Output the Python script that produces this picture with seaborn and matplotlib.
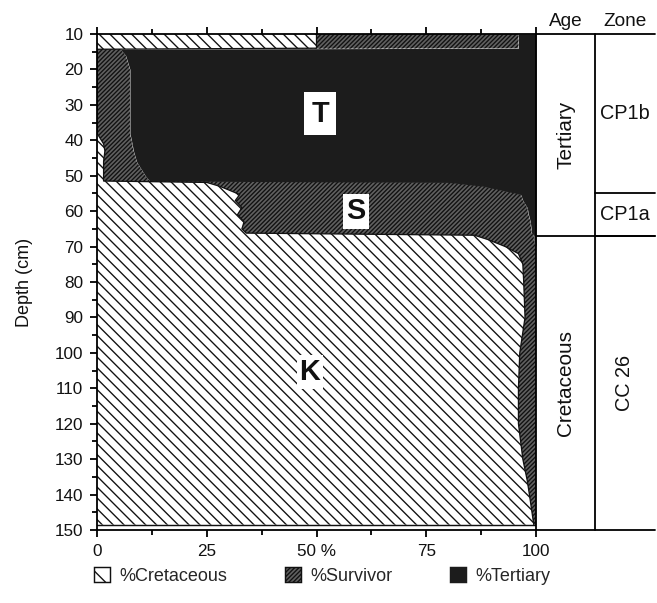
import numpy as np
import pandas as pd
import seaborn as sns
import matplotlib
matplotlib.use("Agg")
import matplotlib.pyplot as plt
from matplotlib.patches import Patch

# ---------------- data ----------------
depth = [10, 14, 14.3, 16, 20, 30, 38, 41, 43, 46, 48, 50, 51.5, 51.9, 53, 55.3, 57, 59, 61,
         63, 65, 66.2, 66.8, 68, 69, 70, 72, 75, 80, 90, 100, 110, 120, 130, 136, 140, 146, 148.5]
pct_cretaceous = [50, 50, 0, 0, 0, 0, 0, 1.5, 1.8, 1.5, 1.5, 1.5, 1.5, 25, 28, 32.5, 31.5, 33,
                  32, 33.5, 33, 34, 86, 89, 91, 93, 96, 97, 97.2, 97.5, 96.3, 96, 96, 97, 98, 98.5, 99.2, 99.5]
pct_survivor = [46, 46, 5.3, 6.5, 7.5, 7.5, 7.5, 6.5, 6.5, 7.5, 8.5, 9.5, 10.5, 55, 60, 64, 65.5, 65,
                66.3, 65.2, 65.9, 65, 13.5, 10.5, 8.8, 7, 4, 3, 2.8, 2.5, 3.7, 4, 4, 3, 2, 1.5, 0.8, 0.5]
pct_tertiary = [100 - c - s for c, s in zip(pct_cretaceous, pct_survivor)]

x_ticks = [0, 25, 50, 75, 100]
x_ticklabels = ["0", "25", "50 %", "75", "100"]
y_ticks = list(range(10, 151, 10))

series_names = ["%Cretaceous", "%Survivor", "%Tertiary"]
age_bounds = [(10, 67, "Tertiary"), (67, 150, "Cretaceous")]
zone_bounds = [(10, 55, "CP1b"), (55, 67, "CP1a"), (67, 150, "CC 26")]

df = pd.DataFrame({"depth": depth, "cret": pct_cretaceous, "surv": pct_survivor, "tert": pct_tertiary})
df["cum1"] = df["cret"]
df["cum2"] = df["cret"] + df["surv"]

# ---------------- style ----------------
sns.set_theme(style="ticks")
plt.rcParams["font.family"] = ["Liberation Sans", "DejaVu Sans"]
plt.rcParams["hatch.linewidth"] = 0.75
plt.rcParams["axes.linewidth"] = 1.0

DPI = 130
fig = plt.figure(figsize=(657 / DPI, 603 / DPI), dpi=DPI)
W, H = 657, 603
left, right, top, bottom = 97, 536, 34, 530
ax = fig.add_axes([left / W, 1 - bottom / H, (right - left) / W, (bottom - top) / H])

CRET_FACE = "white"
SURV_FACE = "#606060"
TERT_FACE = "#1c1c1c"
CRET_HATCH = "\\" * 4
SURV_HATCH = "/" * 10

ax.fill_betweenx(df["depth"], 0, df["cum1"], facecolor=CRET_FACE, edgecolor="#111111",
                 hatch=CRET_HATCH, linewidth=0)
ax.fill_betweenx(df["depth"], df["cum1"], df["cum2"], facecolor=SURV_FACE, edgecolor="#111111",
                 hatch=SURV_HATCH, linewidth=0)
ax.fill_betweenx(df["depth"], df["cum2"], 100, facecolor=TERT_FACE, edgecolor=TERT_FACE,
                 linewidth=0)

sns.lineplot(data=df, x="cum1", y="depth", orient="y", sort=False, estimator=None,
             color="#111111", linewidth=0.7, ax=ax)
ax.axhline(148.5, color="#111111", linewidth=0.8)

ax.set_xlim(0, 100)
ax.set_ylim(150, 10)
ax.set_xticks(x_ticks)
ax.set_xticklabels(x_ticklabels)
ax.set_xticks(np.arange(12.5, 100, 25), minor=True)
ax.set_yticks(y_ticks)
ax.set_yticks(np.arange(15, 150, 10), minor=True)
ax.tick_params(axis="both", which="major", direction="out", length=4, width=1,
               labelsize=9.5, color="black", labelcolor="#111111")
ax.tick_params(axis="both", which="minor", direction="out", length=3, width=1, color="black")
ax.tick_params(axis="x", which="both", top=True, labeltop=False)
ax.tick_params(axis="y", which="both", right=False)
ax.set_xlabel("")
ax.set_ylabel("Depth (cm)", fontsize=10, color="#111111", labelpad=12)
for sp in ax.spines.values():
    sp.set_visible(True)
    sp.set_color("black")

# region labels
lab_kw = dict(fontsize=16, fontweight="bold", ha="center", va="center", color="#111111")
ax.text(50.8, 32.5, "T", bbox=dict(facecolor="white", edgecolor="none", boxstyle="square,pad=0.25"), **lab_kw)
ax.text(59, 60, "S", bbox=dict(facecolor="white", edgecolor="none", boxstyle="square,pad=0.12"), **lab_kw)
ax.text(48.5, 105.5, "K", bbox=dict(facecolor="white", edgecolor="none", boxstyle="square,pad=0.1"), **lab_kw)

# ---------------- right panel: Age / Zone ----------------
pr = 655
axr = fig.add_axes([right / W, 1 - bottom / H, (pr - right) / W, (bottom - top) / H])
axr.set_ylim(150, 10)
axr.set_xlim(0, 1)
axr.axis("off")
div = (595 - right) / (pr - right)
lk = dict(color="black", linewidth=1.0, clip_on=False)
axr.plot([0, 1], [10, 10], **lk)
axr.plot([0, 1], [150, 150], **lk)
axr.plot([div, div], [10, 150], **lk)
for a, b, name in age_bounds:
    if b < 150:
        axr.plot([0, 1], [b, b], **lk)
    axr.text(div / 2, (a + b) / 2, name, rotation=90, ha="center", va="center",
             fontsize=11.5, color="#111111")
for a, b, name in zone_bounds:
    if b < 150:
        axr.plot([div, 1], [b, b], **lk)
    rot = 90 if name == "CC 26" else 0
    axr.text((div + 1) / 2, (a + b) / 2, name, rotation=rot, ha="center", va="center",
             fontsize=11, color="#111111")
axr.text(div / 2, 9, "Age", ha="center", va="bottom", fontsize=10.5, color="#111111")
axr.text((div + 1) / 2, 9, "Zone", ha="center", va="bottom", fontsize=10.5, color="#111111")

# ---------------- legend ----------------
handles = [
    Patch(facecolor=CRET_FACE, edgecolor="#111111", hatch="\\\\", linewidth=0.8),
    Patch(facecolor=SURV_FACE, edgecolor="#111111", hatch=SURV_HATCH, linewidth=0.8),
    Patch(facecolor=TERT_FACE, edgecolor=TERT_FACE, linewidth=0.8),
]
fig.legend(handles, series_names, loc="center", bbox_to_anchor=(322 / W, 1 - 576 / H),
           ncol=3, frameon=False, fontsize=10, handlelength=0.9, handleheight=0.9,
           columnspacing=3.2, handletextpad=0.5)

fig.savefig("out.png", dpi=DPI, facecolor="white")
